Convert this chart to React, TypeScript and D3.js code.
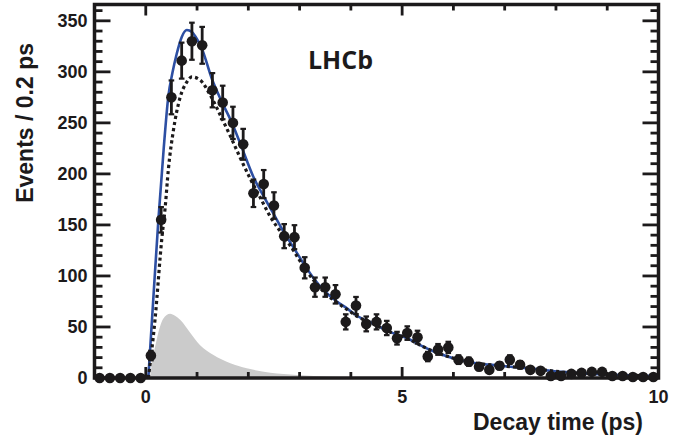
import React from 'react';
import * as d3 from 'd3';

// ---- data ----
const binCenters = [
  -0.9, -0.7, -0.5, -0.3, -0.1, 0.1, 0.3, 0.5, 0.7, 0.9, 1.1, 1.3, 1.5, 1.7, 1.9,
  2.1, 2.3, 2.5, 2.7, 2.9, 3.1, 3.3, 3.5, 3.7, 3.9, 4.1, 4.3, 4.5, 4.7, 4.9,
  5.1, 5.3, 5.5, 5.7, 5.9, 6.1, 6.3, 6.5, 6.7, 6.9, 7.1, 7.3, 7.5, 7.7, 7.9,
  8.1, 8.3, 8.5, 8.7, 8.9, 9.1, 9.3, 9.5, 9.7, 9.9,
];
const events = [
  0, 0, 0, 0, 0, 22, 155, 275, 311, 330, 326, 282, 270, 250, 229,
  181, 190, 169, 139, 138, 108, 89, 89, 82, 55, 71, 53, 55, 49, 39,
  44, 40, 21, 28, 30, 18, 16, 11, 8, 12, 18, 13, 8, 7, 2,
  2, 4, 5, 6, 6, 2, 2, 1, 1, 1,
];

// total fit (blue)
const fitX = [0.05, 0.08, 0.16, 0.246, 0.35, 0.44, 0.52, 0.605, 0.7, 0.8, 0.9, 1.0, 1.1, 1.29, 1.48, 1.69, 1.88, 2.1, 2.3, 2.49, 2.69, 2.88, 3.08, 3.27, 3.47, 3.7, 3.93, 4.12, 4.45, 4.77, 5.1, 5.36, 5.62, 6.27, 6.92, 7.57, 8.1, 9.0, 10.0];
const fitY = [0, 24, 88, 155, 225, 276, 299, 318, 334, 341, 339, 332, 322, 293, 271, 249, 225, 197, 178, 161, 143, 128, 112, 98, 86, 76, 68, 61, 53, 45, 39, 32, 26, 16, 12, 9, 6, 3.5, 2];

// signal component (black dotted)
const sigX = [0.05, 0.18, 0.31, 0.38, 0.44, 0.54, 0.67, 0.8, 0.9, 1.06, 1.26, 1.45, 1.65, 1.84, 2.04, 2.23, 2.43, 2.69, 2.88, 3.08, 3.27, 3.47, 3.7, 3.93, 4.12, 4.45, 4.77, 5.1, 5.36, 5.62, 6.27, 6.92, 7.57, 8.1, 9.0, 10.0];
const sigY = [0, 57, 135, 168, 204, 243, 275, 290, 295, 292, 277, 258, 237, 216, 195, 177, 158, 139, 125, 109, 96, 84.5, 75, 67, 60.5, 52.8, 44.8, 38.9, 31.9, 26, 16, 12, 9, 6, 3.5, 2];

// background component (grey filled)
const bkgX = [0.08, 0.14, 0.21, 0.34, 0.475, 0.57, 0.67, 0.87, 1.06, 1.32, 1.65, 1.97, 2.43, 2.95, 3.6, 4.3, 5.0, 10.0];
const bkgY = [0, 20, 37, 58, 63, 61, 57, 44, 32, 22.5, 14.4, 9.5, 5.2, 3, 1.3, 0.5, 0.2, 0];

const xMajorTicks = [0, 5, 10];
const xTickLabels = ['0', '5', '10'];
const yMajorTicks = [0, 50, 100, 150, 200, 250, 300, 350];
const yTickLabels = ['0', '50', '100', '150', '200', '250', '300', '350'];
const xTitle = 'Decay time (ps)';
const yTitle = 'Events / 0.2 ps';
const tagText = 'LHCb';

export default function App() {
  const W = 694;
  const H = 438;
  const L = 94.5;
  const R = 658.5;
  const T = 4.5;
  const B = 378;
  const x = d3.scaleLinear().domain([-1, 10]).range([L, R]);
  const y = d3.scaleLinear().domain([0, 366]).range([B, T]);

  const ink = '#1c1a1b';
  const blue = '#2d4fa3';
  const font = "'Liberation Sans', Arial, Helvetica, sans-serif";

  const line = d3
    .line<[number, number]>()
    .x((d) => x(d[0]))
    .y((d) => y(d[1]))
    .curve(d3.curveMonotoneX);
  const area = d3
    .area<[number, number]>()
    .x((d) => x(d[0]))
    .y0(y(0))
    .y1((d) => y(d[1]))
    .curve(d3.curveMonotoneX);

  const fitPts = fitX.map((v, i) => [v, fitY[i]] as [number, number]);
  const sigPts = sigX.map((v, i) => [v, sigY[i]] as [number, number]);
  const bkgPts = bkgX.map((v, i) => [v, bkgY[i]] as [number, number]);

  const xMinor = d3.range(-1, 10.001, 1).filter((v) => !xMajorTicks.includes(v));
  const yMinor = d3.range(0, 366, 10).filter((v) => !yMajorTicks.includes(v));

  const xMajLen = 11;
  const xMinLen = 6;
  const yMajLen = 16;
  const yMinLen = 8;
  const tickW = 2.8;

  return (
    <svg
      width={W}
      height={H}
      viewBox={`0 0 ${W} ${H}`}
      style={{ position: 'absolute', left: 0, top: 0, background: '#fff' }}
    >
      <defs>
        <clipPath id="plotclip">
          <rect x={L} y={T} width={R - L} height={B - T} />
        </clipPath>
      </defs>
      <rect x={0} y={0} width={W} height={H} fill="#fff" />

      <g clipPath="url(#plotclip)">
        <path d={area(bkgPts) || ''} fill="#cbcbcb" stroke="none" />
        <path d={line(fitPts) || ''} fill="none" stroke={blue} strokeWidth={2.6} />
        <path
          d={line(sigPts) || ''}
          fill="none"
          stroke={ink}
          strokeWidth={3.2}
          strokeDasharray="3.2 3"
        />
      </g>

      {/* frame */}
      <rect x={L} y={T} width={R - L} height={B - T} fill="none" stroke={ink} strokeWidth={3.5} />

      {/* x ticks bottom & top */}
      {xMajorTicks.map((v) => (
        <g key={'xM' + v}>
          <line x1={x(v)} x2={x(v)} y1={B} y2={B - xMajLen} stroke={ink} strokeWidth={tickW} />
          <line x1={x(v)} x2={x(v)} y1={T} y2={T + xMajLen} stroke={ink} strokeWidth={tickW} />
        </g>
      ))}
      {xMinor.map((v) => (
        <g key={'xm' + v}>
          <line x1={x(v)} x2={x(v)} y1={B} y2={B - xMinLen} stroke={ink} strokeWidth={tickW} />
          <line x1={x(v)} x2={x(v)} y1={T} y2={T + xMinLen} stroke={ink} strokeWidth={tickW} />
        </g>
      ))}
      {/* y ticks left & right */}
      {yMajorTicks.map((v) => (
        <g key={'yM' + v}>
          <line x1={L} x2={L + yMajLen} y1={y(v)} y2={y(v)} stroke={ink} strokeWidth={tickW} />
          <line x1={R} x2={R - yMajLen} y1={y(v)} y2={y(v)} stroke={ink} strokeWidth={tickW} />
        </g>
      ))}
      {yMinor.map((v) => (
        <g key={'ym' + v}>
          <line x1={L} x2={L + yMinLen} y1={y(v)} y2={y(v)} stroke={ink} strokeWidth={tickW} />
          <line x1={R} x2={R - yMinLen} y1={y(v)} y2={y(v)} stroke={ink} strokeWidth={tickW} />
        </g>
      ))}

      {/* data points */}
      <g>
        {binCenters.map((c, i) => {
          const n = events[i];
          const e = Math.sqrt(n);
          const cx = x(c);
          return (
            <g key={'p' + i}>
              {n > 0 && (
                <>
                  <line x1={cx} x2={cx} y1={y(n - e)} y2={y(n + e)} stroke={ink} strokeWidth={2.8} />
                  <line x1={cx - 2.8} x2={cx + 2.8} y1={y(n + e)} y2={y(n + e)} stroke={ink} strokeWidth={2.2} />
                  <line x1={cx - 2.8} x2={cx + 2.8} y1={y(n - e)} y2={y(n - e)} stroke={ink} strokeWidth={2.2} />
                </>
              )}
              <circle cx={cx} cy={y(n)} r={5.3} fill={ink} />
            </g>
          );
        })}
      </g>

      {/* tick labels */}
      {xMajorTicks.map((v, i) => (
        <text
          key={'xl' + v}
          x={x(v)}
          y={403}
          textAnchor="middle"
          fontFamily={font}
          fontWeight="bold"
          fontSize={18}
          fill={ink}
        >
          {xTickLabels[i]}
        </text>
      ))}
      {yMajorTicks.map((v, i) => (
        <text
          key={'yl' + v}
          x={87.5}
          y={y(v) + 6.4}
          textAnchor="end"
          fontFamily={font}
          fontWeight="bold"
          fontSize={18}
          fill={ink}
        >
          {yTickLabels[i]}
        </text>
      ))}

      {/* titles */}
      <text
        x={643}
        y={430}
        textAnchor="end"
        fontFamily={font}
        fontWeight="bold"
        fontSize={23}
        fill={ink}
      >
        {xTitle}
      </text>
      <text
        transform="translate(33,43) rotate(-90)"
        textAnchor="end"
        fontFamily={font}
        fontWeight="bold"
        fontSize={23}
        fill={ink}
      >
        {yTitle}
      </text>
      <text
        x={308}
        y={69}
        fontFamily="'Open Sans', 'Liberation Sans', Arial, sans-serif"
        fontWeight="bold"
        fontSize={25}
        fill={ink}
      >
        {tagText}
      </text>
    </svg>
  );
}
